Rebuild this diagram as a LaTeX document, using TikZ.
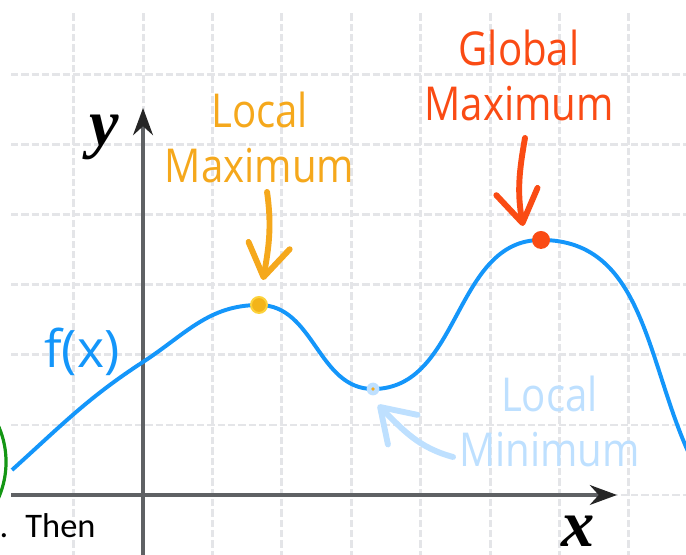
\documentclass[tikz,border=0pt]{standalone}
\usepackage{fontspec}
\setmainfont{Open Sans}
\newfontfamily\handfont[FakeStretch=0.86]{Open Sans}
\newfontfamily\notefont{Carlito}
\newfontfamily\axisfont{Liberation Serif}
\usetikzlibrary{arrows.meta}
\definecolor{curveblue}{RGB}{20,150,250}
\definecolor{maxorange}{RGB}{245,168,28}
\definecolor{maxred}{RGB}{250,75,20}
\definecolor{minblue}{RGB}{190,224,255}
\definecolor{gridgray}{RGB}{228,229,232}
\definecolor{axisgray}{RGB}{95,97,100}
\definecolor{ringgreen}{RGB}{20,150,20}
\tikzset{
    grid line/.style={gridgray, line width=1.2pt, dash pattern=on 3pt off 1.2pt},
    axis line/.style={axisgray, line width=1.8pt},
    axis label/.style={font=\axisfont\bfseries\itshape\fontsize{27}{27}\selectfont, anchor=base, inner sep=0pt},
    hand label/.style={font=\handfont\fontsize{19}{22.7}\selectfont, align=center, anchor=base, inner sep=0pt},
    pointer/.style={line width=2.4pt, line cap=round, -{Straight Barb[length=13pt,width=17pt,round]}},
    extremum/.style={circle, inner sep=0pt, minimum size=#1},
    >={Stealth[length=11pt,width=8pt,black!85]}
}

\begin{document}
\begin{tikzpicture}[x=0.9914cm,y=1cm]
\useasboundingbox (-2.061,-0.857) rectangle (7.824,7.071);
\clip (-2.061,-0.857) rectangle (7.824,7.071);
% grid
\foreach \gx in {-1,...,7}
    \draw[grid line] (\gx,-0.9) -- (\gx,6.886);
\foreach \gy in {0,...,6}
    \draw[grid line] (-1.902,\gy) -- (7.9,\gy);
\draw[ringgreen, line width=1.3pt] (-3.242,0.471) circle[radius=1.268];
% axes
\draw[axis line,->] (-1.902,0) -- (6.83,0);
\draw[axis line,->] (0,-0.9) -- (0,5.529);
\node[axis label] (xlabel) at (6.268,-0.73) {x};
\node[axis label] (ylabel) at (-0.555,4.986) {y};
% the function
\coordinate (start) at (-1.888,0.357);
\coordinate (ycross) at (0,1.9);
\coordinate (lmax) at (1.671,2.714);
\coordinate (lmin) at (3.314,1.514);
\coordinate (gmax) at (5.735,3.643);
\coordinate (finish) at (7.95,0.42);
\draw[curveblue, line width=1.6pt] (start) to[out=42,in=-147] (ycross) to[out=33,in=180] (lmax)
    to[out=0,in=180] (lmin) to[out=0,in=180] (gmax) to[out=0,in=117] (finish);
\node[font=\fontsize{21}{24}\selectfont, text=curveblue, inner sep=0pt] (fx) at (-0.879,2.05) {f(x)};
% extrema
\node[extremum=6.5pt, fill={rgb,255:red,243;green,180;blue,25}, draw={rgb,255:red,252;green,210;blue,60}, line width=0.8pt] (lmax_dot) at (lmax) {};
\node[extremum=7.3pt, fill=maxred] (gmax_dot) at (gmax) {};
\node[extremum=5.2pt, fill=minblue] (lmin_dot) at (lmin) {};
\node[extremum=1.6pt, fill=maxorange] (lmin_core) at (lmin) {};
% labels and pointers (base = last line)
\node[hand label, text=maxorange] (lmax_label) at (1.68,4.457) {Local\\Maximum};
\node[hand label, text=maxred] (gmax_label) at (5.418,5.343) {Global\\Maximum};
\node[hand label, text=minblue] (lmin_label) at (5.857,0.4) {Local\\Minimum};
\coordinate (lmax_tail) at (1.787,4.329);
\coordinate (lmax_tip) at (1.729,3.071);
\coordinate (gmax_tail) at (5.504,5.1);
\coordinate (gmax_tip) at (5.475,3.843);
\coordinate (lmin_tail) at (4.467,0.543);
\coordinate (lmin_tip) at (3.386,1.286);
\draw[pointer, maxorange] (lmax_tail) to[out=-82,in=80] (lmax_tip);
\draw[pointer, maxred] (gmax_tail) to[out=-100,in=100] (gmax_tip);
\draw[pointer, minblue] (lmin_tail) to[out=165,in=-45] (lmin_tip);
\node[font=\notefont\fontsize{14}{16}\selectfont, anchor=base west, inner sep=0pt] (then_text) at (-2.075,-0.614) {.\hspace{7pt}Then};
\end{tikzpicture}
\end{document}
